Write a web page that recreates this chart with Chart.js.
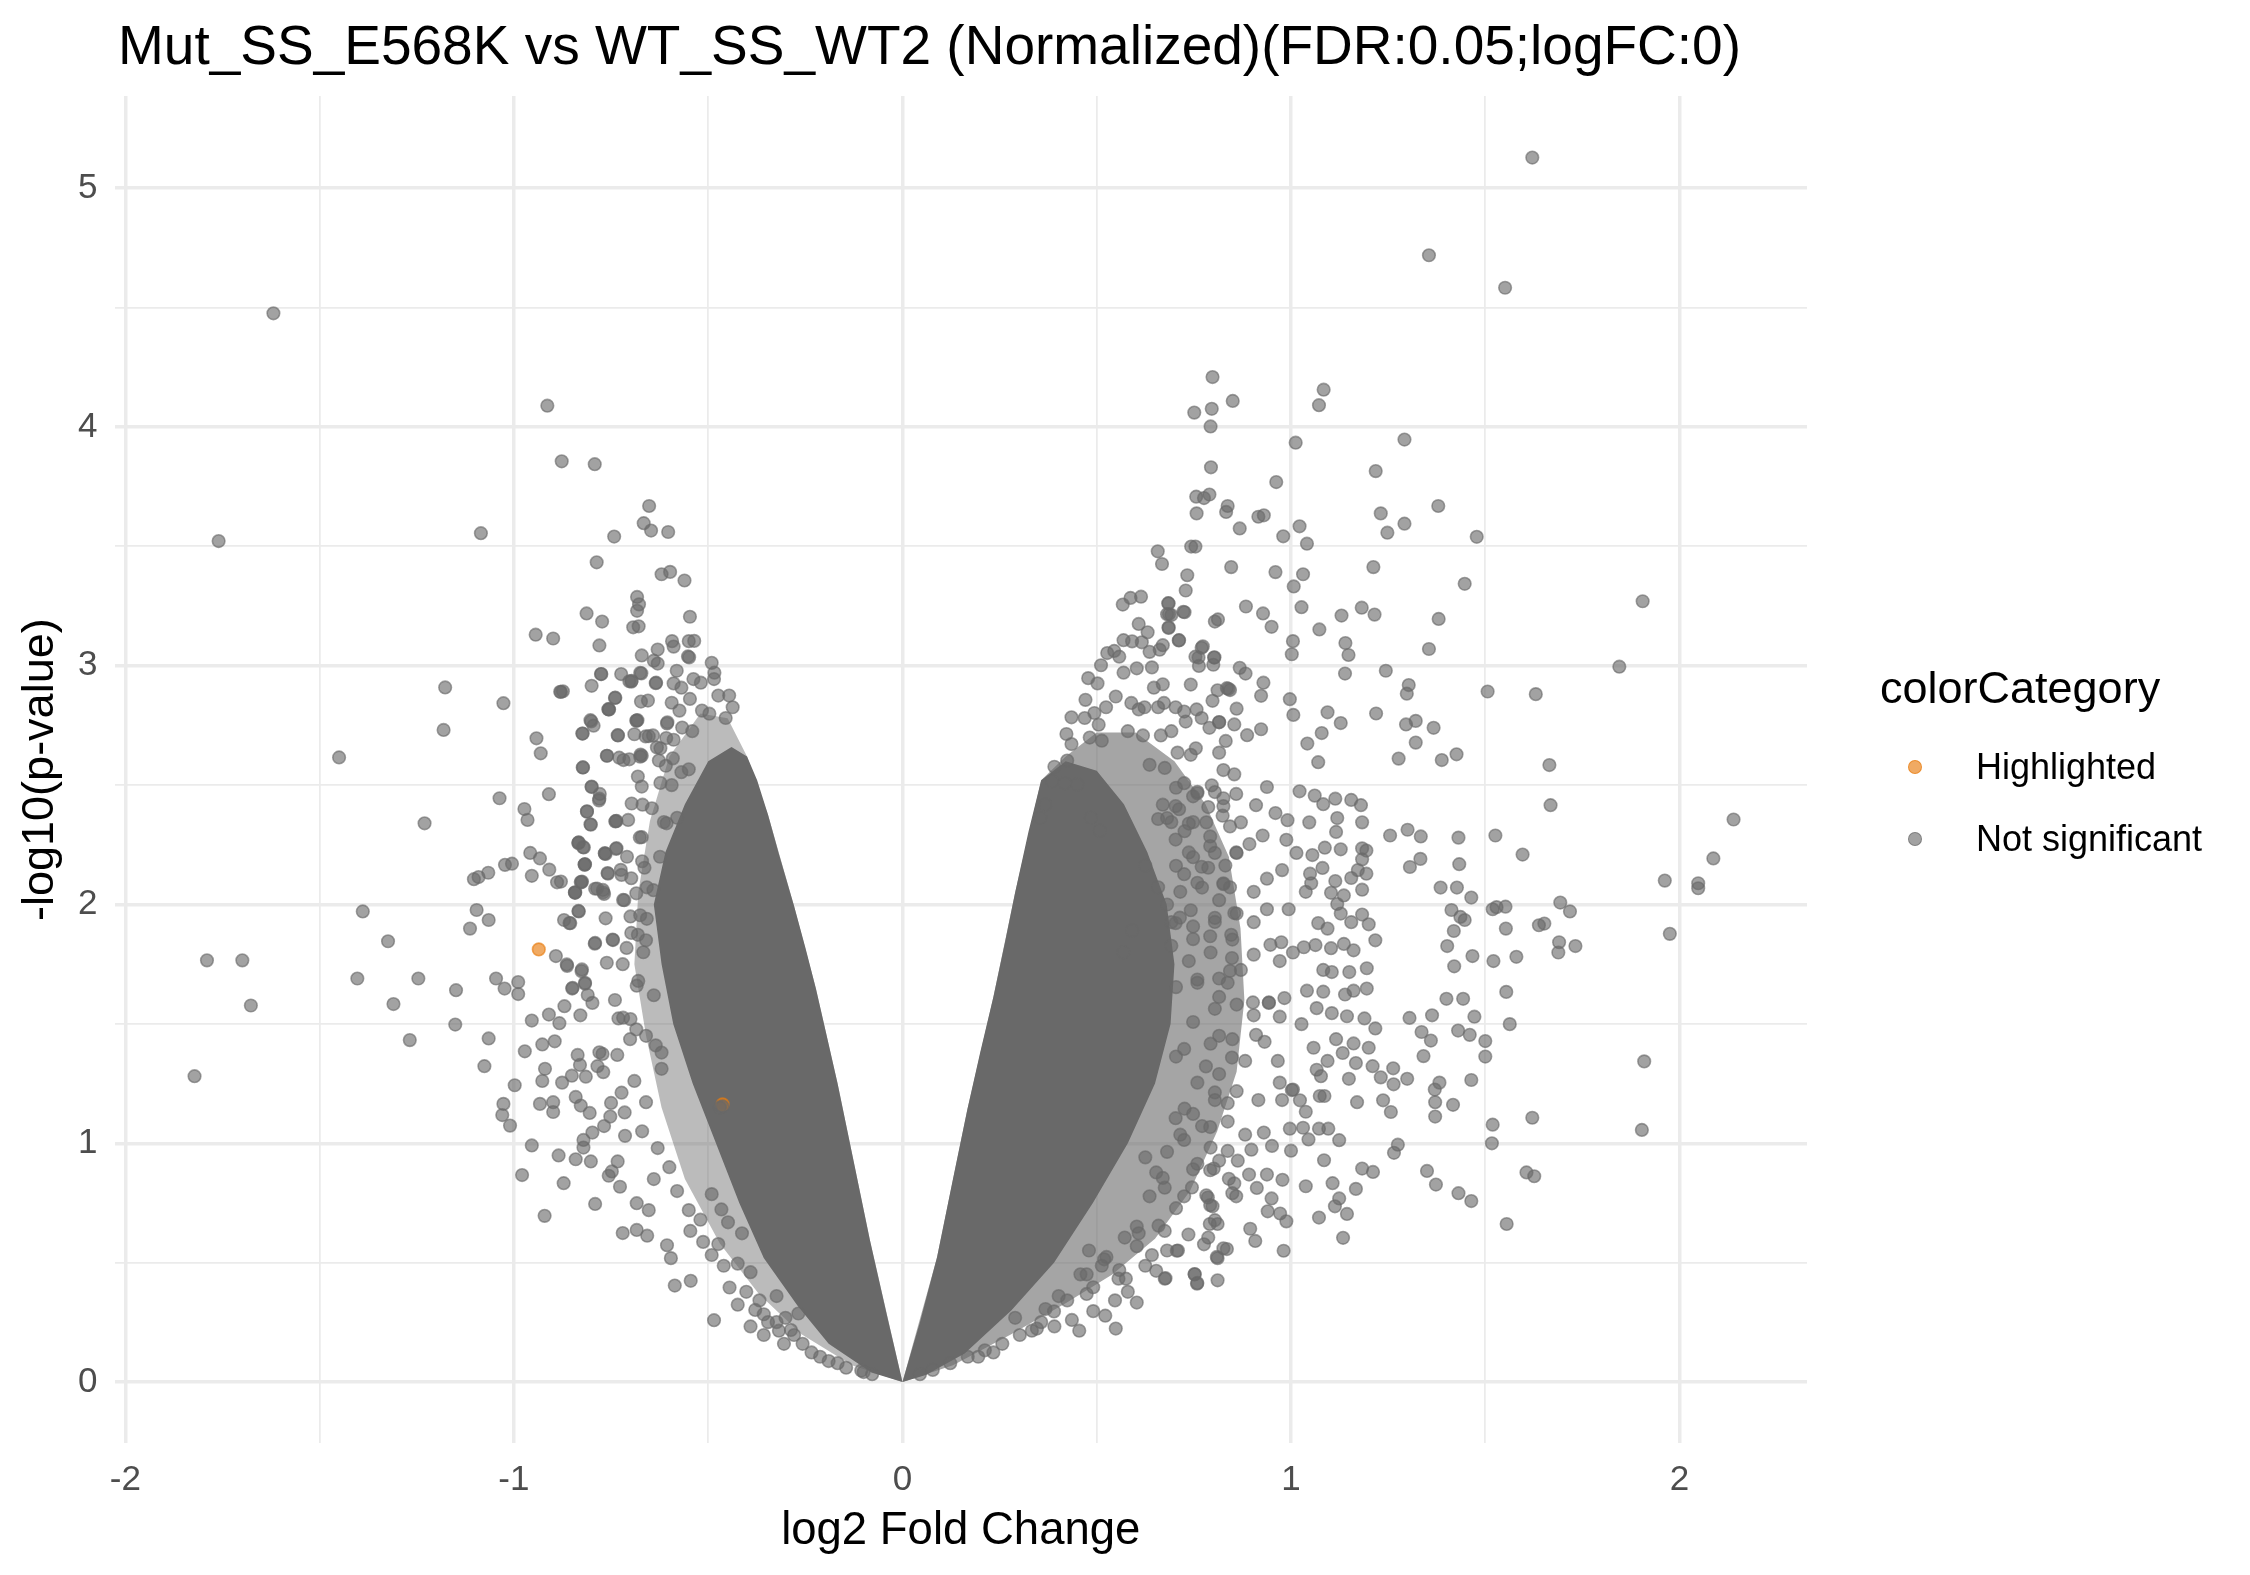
<!DOCTYPE html>
<html><head><meta charset="utf-8">
<script src="https://cdn.jsdelivr.net/npm/chart.js@4.4.1/dist/chart.umd.min.js"></script>
<style>
html,body{margin:0;padding:0;background:#fff;}
#wrap{position:relative;width:2250px;height:1575px;overflow:hidden;font-family:"Liberation Sans",Arial,Helvetica,sans-serif;}
canvas{position:absolute;left:0;top:0;}
.t{position:absolute;white-space:nowrap;color:#000;line-height:1;}
.dot{position:absolute;box-sizing:border-box;width:14px;height:14px;border-radius:50%;}
</style></head>
<body><div id="wrap">
<canvas id="c" width="2250" height="1575"></canvas>
<div class="t" id="title" style="left:118px;top:18px;font-size:55px;"></div>
<div id="legend"></div>
</div>
<script>
// ---------- text ----------
const chartTitle = "Mut_SS_E568K vs WT_SS_WT2 (Normalized)(FDR:0.05;logFC:0)";
const xAxisTitle = "log2 Fold Change";
const yAxisTitle = "-log10(p-value)";
const legendTitle = "colorCategory";
const categories = ["Highlighted", "Not significant"];

// ---------- ticks ----------
const xTickValues = [-2, -1.5, -1, -0.5, 0, 0.5, 1, 1.5, 2];
const xTickLabels = ["-2", "", "-1", "", "0", "", "1", "", "2"];
const yTickValues = [0, 0.5, 1, 1.5, 2, 2.5, 3, 3.5, 4, 4.5, 5];
const yTickLabels = ["0", "", "1", "", "2", "", "3", "", "4", "", "5"];

// ---------- data: [log2FC, -log10(p)] ----------
const highlighted = [[-0.936, 1.812], [-0.463, 1.163]];

const notSignificantLeft = [
[-1.619,4.476],[-1.760,3.522],[-1.450,2.616],[-1.822,1.281],[-1.790,1.766],[-1.699,1.766],[-1.677,1.577],
[-1.389,1.971],[-1.403,1.690],[-1.324,1.846],[-1.310,1.583],[-1.246,1.690],[-1.268,1.432],[-1.230,2.340],
[-1.177,2.909],[-1.181,2.731],[-1.149,1.641],[-1.151,1.497],[-1.113,1.899],[-1.096,1.977],[-1.065,1.935],
[-1.085,3.555],[-1.027,2.843],[-1.103,2.106],[-1.091,2.115],[-1.066,2.133],[-1.023,2.166],[-1.005,2.171],
[-1.037,2.445],[-1.046,1.690],[-1.024,1.648],[-0.989,1.675],[-0.989,1.625],[-1.065,1.439],[-1.076,1.323],
[-1.027,1.165],[-1.030,1.118],[-1.010,1.074],[-0.979,0.867],[-0.921,0.696],[-0.998,1.243],
[-0.914,4.089],[-0.877,3.856],[-0.792,3.844],[-0.652,3.669],[-0.666,3.597],[-0.647,3.566],[-0.603,3.560],
[-0.742,3.541],[-0.787,3.433],[-0.620,3.383],[-0.598,3.393],[-0.561,3.357],[-0.683,3.288],[-0.678,3.257],
[-0.683,3.230],[-0.813,3.219],[-0.773,3.185],[-0.693,3.161],[-0.679,3.165],[-0.547,3.205],[-0.944,3.130],
[-0.899,3.114],[-0.780,3.085],[-0.671,3.043],[-0.630,3.068],[-0.593,3.103],[-0.550,3.103],[-0.640,3.021],
[-0.630,3.009],[-0.552,3.039],[-0.491,3.012],[-0.879,2.890],[-0.942,2.696],[-0.931,2.633],[-0.823,2.574],
[-0.775,2.965],[-0.800,2.916],[-0.724,2.965],[-0.697,2.937],[-0.675,2.970],[-0.635,2.927],[-0.581,2.979],
[-0.740,2.865],[-0.757,2.818],[-0.673,2.850],[-0.655,2.854],[-0.801,2.767],[-0.795,2.749],[-0.824,2.716],
[-0.733,2.709],[-0.685,2.770],[-0.690,2.713],[-0.760,2.623],[-0.671,2.623],[-0.594,2.845],[-0.606,2.758],
[-0.536,3.104],[-0.589,3.080],[-0.549,3.035],[-0.484,2.971],[-0.485,2.944],[-0.703,2.935],[-0.874,2.893],
[-0.739,2.866],[-0.569,2.908],[-0.589,2.926],[-0.519,2.929],[-0.538,2.944],[-0.474,2.875],[-0.446,2.875],
[-0.437,2.826],[-0.755,2.817],[-0.574,2.812],[-0.547,2.861],[-0.516,2.812],[-0.497,2.799],[-0.455,2.781],
[-0.803,2.772],[-0.684,2.770],[-0.732,2.708],[-0.605,2.763],[-0.567,2.741],[-0.541,2.726],[-0.661,2.704],
[-0.642,2.708],[-0.608,2.697],[-0.589,2.690],[-0.674,2.628],[-0.761,2.623],[-0.822,2.574],[-0.729,2.615],
[-0.703,2.608],[-0.623,2.654],[-0.627,2.603],[-0.591,2.612],[-0.609,2.581],[-0.569,2.554],[-0.550,2.566],
[-0.681,2.536],[-0.800,2.494],[-0.779,2.463],[-0.781,2.436],[-0.812,2.390],[-0.803,2.336],[-0.739,2.348],
[-0.706,2.354],[-0.697,2.423],[-0.669,2.418],[-0.645,2.403],[-0.623,2.509],[-0.594,2.500],[-0.614,2.345],
[-0.580,2.363],[-0.676,2.281],[-0.736,2.236],[-0.764,2.212],[-0.834,2.259],[-0.820,2.239],[-0.818,2.167],
[-0.709,2.200],[-0.670,2.181],[-0.759,2.132],[-0.725,2.145],[-0.828,2.094],[-0.786,2.067],[-0.770,2.051],
[-0.879,2.096],[-0.843,2.051],[-0.716,2.018],[-0.664,2.154],[-0.658,2.072],[-0.764,1.942],[-0.834,1.973],
[-0.857,1.922],[-0.745,1.851],[-0.792,1.836],[-0.675,1.955],[-0.681,1.873],
[-0.910,2.462],[-0.973,2.400],[-0.965,2.354],[-0.812,2.389],[-0.802,2.334],[-0.800,2.492],[-0.780,2.443],
[-0.738,2.349],[-0.833,2.260],[-0.822,2.240],[-0.958,2.216],[-0.933,2.193],[-0.909,2.146],[-0.954,2.120],
[-0.889,2.093],[-0.818,2.167],[-0.826,2.093],[-0.843,2.049],[-0.766,2.213],[-0.737,2.233],[-0.758,2.129],
[-0.791,2.066],[-0.768,2.044],
[-0.892,1.784],[-0.863,1.743],[-0.826,1.721],[-0.871,1.935],[-0.833,1.971],[-0.954,1.514],[-0.910,1.539],
[-0.883,1.503],[-0.870,1.574],[-0.829,1.536],[-0.850,1.648],[-0.817,1.668],[-0.810,1.621],[-0.798,1.588],
[-0.927,1.414],[-0.895,1.427],[-0.972,1.385],[-0.920,1.312],[-0.927,1.261],[-0.876,1.254],[-0.851,1.283],
[-0.830,1.328],[-0.836,1.370],[-0.815,1.279],[-0.780,1.381],[-0.772,1.374],[-0.785,1.323],[-0.770,1.298],
[-0.933,1.165],[-0.899,1.172],[-0.899,1.131],[-0.841,1.194],[-0.828,1.158],[-0.805,1.127],[-0.752,1.112],
[-0.768,1.072],[-0.798,1.045],[-0.954,0.991],[-0.885,0.949],[-0.841,0.933],[-0.802,0.924],[-0.821,1.014],
[-0.821,0.982],[-0.872,0.833],[-0.791,0.746],[-0.756,0.864],[-0.748,0.882],[-0.733,0.924],[-0.727,0.818],
[-0.684,0.749],[-0.653,0.720],[-0.720,0.624],[-0.684,0.637],[-0.657,0.613],[-0.714,1.031],[-0.660,1.172],
[-0.715,1.129],[-0.750,1.169],[-0.723,1.212],[-0.690,1.261],[-0.620,1.312],[-0.635,1.410],[-0.734,1.370],
[-0.701,1.436],[-0.685,1.477],[-0.731,1.523],[-0.719,1.526],[-0.606,0.573],[-0.596,0.519],[-0.546,0.633],
[-0.586,0.404],[-0.545,0.424],[-0.485,0.259],
[-0.445,0.396],[-0.379,0.302],[-0.357,0.284],[-0.305,0.160],[-0.324,0.251],[-0.318,0.215],[-0.287,0.218],
[-0.190,0.088],[-0.106,0.048],[-0.491,0.532],[-0.460,0.487],[-0.424,0.496],[-0.391,0.460],[-0.449,0.669],
[-0.413,0.623],[-0.491,0.787],[-0.466,0.723],[-0.513,0.587],[-0.474,0.578],
[-0.700,1.950],[-0.660,1.850],[-0.720,1.750],[-0.680,1.680],[-0.640,1.620],[-0.740,1.600],[-0.700,1.520],
[-0.660,1.450],[-0.620,1.380],[-0.670,1.050],[-0.630,0.980],[-0.600,0.900],[-0.580,0.800],[-0.640,0.850],
[-0.550,0.720],[-0.520,0.680],[-0.463,1.154],[-0.470,1.150],
[-0.881,2.891],[-0.776,2.965],[-0.698,2.933],[-0.672,2.968],[-0.634,2.929],[-0.756,2.817],[-0.682,2.772],
[-0.823,2.716],[-0.653,2.705],[-0.632,2.658],[-0.718,2.605],[-0.675,2.619],[-0.671,2.494],[-0.736,2.350],
[-0.671,2.282],[-0.766,2.215],[-0.834,2.257],[-0.817,2.169],[-0.723,2.124],[-0.698,2.110],[-0.771,2.061],
[-0.825,2.096],[-0.842,2.050],[-0.719,2.019],[-0.685,2.047],[-0.855,1.922],[-0.791,1.839],[-0.761,1.756],
[-0.746,1.853],[-0.825,1.728],[-0.864,1.749],[-0.710,1.818],[-0.698,1.881],[-0.817,1.672],[-0.849,1.651],
[-0.641,2.060],[-0.624,2.200],[-0.607,2.340],[-0.658,1.940],[-0.667,1.800],[-0.684,1.660],
[-0.402,0.378],[-0.368,0.342],[-0.346,0.251],[-0.301,0.269],[-0.279,0.197],[-0.257,0.160],[-0.234,0.124],
[-0.212,0.106],[-0.167,0.079],[-0.145,0.060],[-0.100,0.042],[-0.078,0.033],[-0.324,0.360],[-0.424,0.324],
[-0.391,0.233],[-0.357,0.197],[-0.268,0.287]
];

const notSignificantRight = [
[1.621,5.128],[1.355,4.719],[1.551,4.583],[0.798,4.209],[0.850,4.109],[0.751,4.060],[0.796,4.076],
[0.793,4.002],[1.084,4.156],[1.072,4.091],[1.012,3.934],[1.292,3.947],[0.794,3.831],[0.962,3.769],
[1.218,3.815],[0.756,3.708],[0.776,3.702],[0.790,3.717],[0.837,3.669],[0.833,3.644],[0.757,3.638],
[1.379,3.669],[0.916,3.624],[0.930,3.630],[1.231,3.638],[0.868,3.575],[1.022,3.584],[1.292,3.595],
[1.248,3.557],[0.980,3.542],[1.041,3.511],[1.478,3.540],[0.657,3.479],[0.668,3.426],[0.743,3.499],
[0.754,3.499],[0.846,3.413],[0.960,3.392],[1.031,3.383],[1.007,3.332],[1.212,3.413],[1.447,3.343],
[1.905,3.270],[0.733,3.379],[0.729,3.315],[0.685,3.261],[0.681,3.216],[0.692,3.212],[0.726,3.224],
[0.685,3.161],[0.884,3.248],[0.928,3.219],[0.950,3.163],[0.804,3.185],[0.812,3.194],[1.027,3.245],
[1.073,3.152],[1.130,3.210],[1.182,3.243],[1.215,3.214],[1.380,3.196],[1.355,3.070],[1.005,3.103],
[1.002,3.048],[1.140,3.095],[1.148,3.045],[1.139,2.967],[1.244,2.979],[1.845,2.996],[1.506,2.892],
[1.630,2.881],[1.303,2.919],[1.298,2.883],[0.773,3.081],[0.711,3.106],[0.762,3.034],[0.802,3.034],
[0.868,2.991],[0.883,2.967],[0.929,2.929],[0.923,2.874],[0.839,2.903],[0.997,2.860],[1.006,2.794],
[1.219,2.800],[1.094,2.805],[1.128,2.760],[1.079,2.718],[1.042,2.674],[1.367,2.740],[1.321,2.769],
[1.296,2.754],[1.321,2.678],[1.426,2.629],[1.388,2.605],[1.277,2.611],[1.665,2.584],[1.070,2.596],
[0.923,2.734],[0.887,2.709],[0.832,2.685],[0.860,2.820],[0.742,2.921],[0.790,2.740],[0.815,2.764],
[1.668,2.416],[2.139,2.356],[2.087,2.193],[1.962,2.100],[2.048,2.089],[2.048,2.068],[1.975,1.877],
[1.909,1.343],[1.903,1.056],[1.526,2.289],[1.596,2.209],[1.431,2.280],[1.433,2.169],[1.334,2.285],
[1.333,2.191],[1.300,2.313],[1.255,2.289],[1.306,2.157],[1.693,2.008],[1.718,1.971],[1.519,1.980],
[1.529,1.989],[1.552,1.991],[1.638,1.913],[1.652,1.920],[1.553,1.899],[1.690,1.842],[1.688,1.799],
[1.732,1.826],[1.580,1.781],[1.521,1.763],[1.467,1.784],[1.420,1.741],[1.427,2.071],[1.464,2.029],
[1.385,2.071],[1.413,1.977],[1.436,1.948],[1.447,1.935],[1.419,1.889],[1.402,1.826],[1.554,1.634],
[1.443,1.605],[1.400,1.605],[1.563,1.499],[1.472,1.530],[1.363,1.536],[1.305,1.525],[1.430,1.472],
[1.460,1.454],[1.500,1.428],[1.500,1.363],[1.341,1.365],[1.360,1.430],[1.336,1.466],[1.464,1.265],
[1.382,1.254],[1.370,1.225],[1.371,1.172],[1.371,1.112],[1.417,1.161],[1.299,1.270],[1.264,1.247],
[1.237,1.180],[1.257,1.131],[1.170,1.172],[1.149,1.270],[1.231,1.276],[1.210,1.323],[1.263,1.314],
[1.621,1.107],[1.519,1.078],[1.517,1.000],[1.275,0.994],[1.265,0.960],[1.124,1.013],[1.085,0.929],
[1.183,0.894],[1.211,0.880],[1.350,0.884],[1.373,0.827],[1.431,0.791],[1.464,0.758],[1.606,0.878],
[1.626,0.862],[1.555,0.662],[1.167,0.809],[1.107,0.833],[1.038,0.820],[1.124,0.769],[1.113,0.736],
[1.144,0.704],[1.072,0.689],[1.134,0.604],[0.978,0.847],[0.938,0.869],[0.950,0.769],[0.940,0.715],
[0.972,0.706],[0.988,0.673],[0.981,0.550],[0.895,0.642],[0.908,0.591],[0.835,0.557],[0.811,0.519],
[0.811,0.426],[0.758,0.412],[0.752,0.452],[0.677,0.435],[0.653,0.466],[0.706,0.550],[0.776,0.577],
[0.791,0.662],[0.811,0.662],[1.000,0.969],[0.997,1.061],[1.031,1.065],[1.072,1.061],[1.096,1.061],
[1.045,1.016],[1.023,1.180],[1.038,1.132],[1.074,1.198],[1.086,1.198],[1.002,1.223],[0.930,1.045],
[0.951,0.989],[0.898,0.973],[0.863,0.927],[0.840,0.851],[0.849,0.791],[0.786,0.773],[0.798,0.736],
[0.745,0.815],[0.801,0.894],[0.892,0.869],[0.912,0.813],
[1.022,2.474],[1.061,2.456],[1.083,2.420],[1.114,2.443],[1.155,2.438],[1.180,2.416],[1.183,2.344],
[1.047,2.344],[0.991,2.353],[0.960,2.383],[1.119,2.362],[1.116,2.304],[1.087,2.238],[1.128,2.231],
[1.183,2.235],[1.194,2.226],[1.055,2.207],[1.081,2.153],[1.014,2.216],[0.988,2.271],[1.183,2.189],
[1.172,2.144],[1.194,2.129],[1.114,2.098],[1.155,2.111],[1.183,2.062],[1.049,2.129],[1.052,2.089],
[1.038,2.053],[1.103,2.049],[1.136,2.038],[1.119,2.002],[1.070,1.922],[1.094,1.899],[1.128,1.962],
[1.155,1.926],[1.183,1.958],[1.200,1.917],[1.063,1.830],[1.103,1.817],[1.136,1.835],[1.161,1.808],
[1.217,1.850],[1.083,1.726],[1.105,1.717],[1.150,1.717],[1.195,1.733],[1.041,1.639],[1.083,1.635],
[1.139,1.623],[1.161,1.639],[1.195,1.648],[1.066,1.566],[1.105,1.545],[1.144,1.532],[1.189,1.523],
[1.217,1.481],[1.027,1.499],[0.971,1.530],[0.943,1.588],[1.116,1.436],[1.161,1.418],[1.200,1.400],
[1.058,1.400],[1.094,1.345],[1.133,1.378],[1.167,1.336],[0.966,1.345],[0.971,1.254],[1.005,1.225],
[1.066,1.308],[1.077,1.281],[0.916,1.181],[0.977,1.181],[0.904,1.536],[0.910,1.454],[0.932,1.425],
[0.902,1.590],[0.943,1.590],[0.983,1.608],[0.971,1.763],[1.005,1.799],[1.033,1.821],[0.904,1.790],
[0.947,1.831],[0.975,1.842],[0.871,1.726],[0.837,1.672],[0.860,1.962],[0.904,1.926],[0.938,1.980],
[0.994,1.980],[0.904,2.053],[0.938,2.108],[0.977,2.144],[0.860,2.216],[0.893,2.253],[0.927,2.289],
[0.871,2.344],[0.910,2.416],[0.938,2.492],[0.804,2.471],[0.748,2.453],[0.704,2.489],[0.782,2.344],
[0.726,2.307],[0.681,2.362],[0.804,2.216],[0.748,2.198],[0.704,2.162],[0.826,2.089],[0.771,2.071],
[0.715,2.053],[0.804,1.944],[0.748,1.908],[0.692,1.926],[0.849,1.853],[0.793,1.799],[0.737,1.763],
[0.815,1.690],[0.759,1.672],[0.704,1.654],[0.860,1.581],[0.804,1.563],[0.748,1.508],[0.849,1.436],
[0.793,1.417],[0.704,1.363],[0.882,1.345],[0.815,1.290],[0.759,1.254],[0.860,1.218],[0.804,1.181],
[0.726,1.145],[0.837,1.091],[0.771,1.072],[0.715,1.036],[0.882,1.036],[0.793,0.982],[0.681,0.964],
[0.815,0.927],[0.748,0.891],[0.670,0.855],[0.782,0.782],[0.704,0.728],[0.659,0.655],
[0.234,0.124],[0.195,0.106],[0.455,0.215],[0.549,0.224],[0.522,0.278],[0.603,0.333],[0.333,0.215],
[0.357,0.251],[0.390,0.296],[0.402,0.360],[0.474,0.369],[0.675,0.433],[0.752,0.451],[0.759,0.415],
[0.556,0.433],[0.575,0.433],[0.681,0.551],[0.709,0.551],[0.736,0.618],[0.787,0.605],[0.809,0.524],
[0.642,0.532],[0.603,0.569],[0.572,0.605],[0.608,0.623],[0.513,0.487],[0.474,0.451],[0.480,0.551],
[0.519,0.514],[0.792,0.741],[0.804,0.678],[0.826,0.560],[0.675,0.814],[0.725,0.778],[0.636,0.778],
[0.759,0.914],[0.792,0.887],[0.725,1.014],[0.837,0.968],[0.854,0.832],[0.859,0.778],[0.625,0.941],
[0.653,0.878],[0.603,0.651],[0.675,0.633],[0.703,1.105],[0.748,1.123],[0.792,1.068],[0.804,1.213],
[0.837,1.168],[0.725,1.395],[0.781,1.322],[0.815,1.450],[0.848,1.359],[0.759,1.686],[0.815,1.613],
[0.843,1.722],[0.792,1.867],[0.848,1.776],[0.703,1.922],[0.742,1.976],[0.770,2.158],[0.826,2.085],
[0.792,2.285],[0.737,2.339],[0.826,2.412],[0.759,2.466],[0.703,2.412],[0.658,2.358],
[0.567,3.256],[0.587,3.284],[0.614,3.289],[0.684,3.262],[0.686,3.216],[0.723,3.226],[0.685,3.158],
[0.608,3.175],[0.631,3.140],[0.591,3.102],[0.616,3.098],[0.670,3.086],[0.712,3.107],[0.527,3.053],
[0.545,3.062],[0.558,3.038],[0.569,3.107],[0.636,3.058],[0.662,3.067],[0.754,3.038],[0.763,2.999],
[0.803,3.035],[0.800,3.004],[0.770,3.075],[0.511,3.002],[0.478,2.948],[0.502,2.926],[0.569,2.971],
[0.603,2.989],[0.642,2.993],[0.647,2.908],[0.670,2.922],[0.811,2.897],[0.835,2.906],[0.471,2.857],
[0.494,2.802],[0.524,2.826],[0.435,2.784],[0.469,2.781],[0.549,2.871],[0.589,2.844],[0.608,2.817],
[0.623,2.826],[0.658,2.826],[0.673,2.844],[0.703,2.826],[0.725,2.808],[0.757,2.817],[0.798,2.853],
[0.843,2.898],[0.729,2.766],[0.770,2.781],[0.815,2.763],[0.854,2.754],[0.422,2.714],[0.435,2.672],
[0.505,2.753],[0.482,2.699],[0.513,2.686],[0.580,2.726],[0.619,2.708],[0.665,2.708],[0.692,2.726],
[0.755,2.654],[0.708,2.636],[0.742,2.627],[0.815,2.636],[0.391,2.577],[0.424,2.603],[0.636,2.585],
[0.675,2.572],[0.826,2.563],[0.854,2.545],[0.385,2.517],[0.418,2.508],[0.450,2.503],[0.725,2.508],
[0.759,2.472],[0.796,2.499],[0.826,2.445],[0.859,2.463],[0.670,2.418],[0.712,2.399],[0.787,2.408],
[0.824,2.372],[0.692,2.345],[0.748,2.345],[0.843,2.327],[0.368,2.418],[0.355,2.363],[0.485,2.363],
[0.508,2.309],[0.703,2.272],[0.737,2.218],[0.792,2.245],[0.859,2.218],[0.831,2.163],[0.725,2.127],
[0.759,2.091],[0.787,2.154],[0.843,2.072],[0.815,2.018],[0.625,2.163],[0.658,2.072],[0.681,2.000],
[0.714,1.945],[0.804,1.927],[0.854,1.964],[0.846,1.873],[0.748,1.855],[0.692,1.827],[0.591,1.891],
[0.569,1.800],
[0.045,0.033],[0.078,0.051],[0.123,0.079],[0.168,0.106],[0.212,0.133],[0.257,0.160],[0.302,0.197],
[0.346,0.224],[0.391,0.233],[0.436,0.260],[0.491,0.297],[0.547,0.342],[0.580,0.378],[0.290,0.269],
[0.368,0.306],[0.424,0.342],[0.491,0.397],[0.558,0.469],[0.625,0.487],[0.458,0.451],[0.525,0.524]
];

// outlines of the regions where the points overlap into a solid mass
const leftHaloOutline = [[0,0],[-0.084,0.596],[-0.167,1.25],[-0.223,1.649],[-0.279,1.994],[-0.346,2.376],[-0.40,2.62],[-0.45,2.78],[-0.52,2.8],[-0.6,2.62],[-0.65,2.35],[-0.68,2.05],[-0.69,1.75],[-0.66,1.45],[-0.62,1.15],[-0.56,0.85],[-0.47,0.58],[-0.37,0.37],[-0.26,0.2],[-0.13,0.07]];
const leftCoreOutline = [[0,0],[-0.04,0.28],[-0.084,0.596],[-0.125,0.92],[-0.167,1.25],[-0.195,1.45],[-0.223,1.649],[-0.25,1.82],[-0.279,1.994],[-0.318,2.212],[-0.346,2.376],[-0.374,2.52],[-0.40,2.62],[-0.44,2.66],[-0.5,2.6],[-0.56,2.42],[-0.61,2.22],[-0.64,2.0],[-0.62,1.75],[-0.59,1.5],[-0.54,1.25],[-0.48,1.0],[-0.42,0.75],[-0.357,0.52],[-0.27,0.32],[-0.19,0.16],[-0.08,0.04]];
const rightHaloOutline = [[0,0],[0.089,0.523],[0.167,1.141],[0.234,1.613],[0.29,2.05],[0.357,2.52],[0.42,2.62],[0.5,2.72],[0.6,2.72],[0.7,2.6],[0.78,2.42],[0.84,2.2],[0.87,1.9],[0.88,1.6],[0.86,1.3],[0.81,1.05],[0.74,0.8],[0.65,0.6],[0.54,0.45],[0.42,0.33],[0.28,0.2],[0.13,0.07]];
const rightCoreOutline = [[0,0],[0.045,0.25],[0.089,0.523],[0.13,0.85],[0.167,1.141],[0.2,1.38],[0.234,1.613],[0.265,1.85],[0.29,2.05],[0.324,2.303],[0.357,2.52],[0.42,2.6],[0.5,2.56],[0.57,2.42],[0.63,2.22],[0.68,2.0],[0.70,1.75],[0.69,1.5],[0.65,1.25],[0.58,1.0],[0.49,0.75],[0.39,0.5],[0.28,0.3],[0.16,0.12],[0.06,0.03]];

// ---------- styles ----------
const GREY = 'rgba(105,105,105,0.62)';
const ORANGE = 'rgba(232,125,15,0.65)';
const categoryColors = [ORANGE, GREY];

const toXY = a => a.map(p => ({x: p[0], y: p[1]}));

document.getElementById('title').textContent = chartTitle;

// HTML legend built from the arrays
(function(){
  const lg = document.getElementById('legend');
  const t = document.createElement('div');
  t.className = 't'; t.style.cssText = 'left:1880px;top:665px;font-size:45px;';
  t.textContent = legendTitle; lg.appendChild(t);
  categories.forEach((c, i) => {
    const cy = 767 + i * 72;
    const d = document.createElement('div');
    d.className = 'dot';
    d.style.cssText = `left:1908px;top:${cy-7}px;background:${categoryColors[i]};border:1.6px solid ${categoryColors[i]};`;
    lg.appendChild(d);
    const l = document.createElement('div');
    l.className = 't'; l.style.cssText = `left:1976px;top:${cy-18}px;font-size:36px;`;
    l.textContent = c; lg.appendChild(l);
  });
})();

const polygonPlugin = {
  id: 'polygonFill',
  beforeDatasetsDraw(chart) {
    const ctx = chart.ctx, a = chart.chartArea;
    ctx.save();
    ctx.beginPath(); ctx.rect(a.left, a.top, a.right - a.left, a.bottom - a.top); ctx.clip();
    chart.data.datasets.forEach((ds, i) => {
      if (!ds.polygonFill) return;
      const meta = chart.getDatasetMeta(i);
      ctx.beginPath();
      meta.data.forEach((el, j) => { if (j) ctx.lineTo(el.x, el.y); else ctx.moveTo(el.x, el.y); });
      ctx.closePath();
      ctx.fillStyle = ds.polygonFill;
      ctx.fill();
    });
    ctx.restore();
  }
};

const FONT = '"Liberation Sans", Arial, Helvetica, sans-serif';
Chart.defaults.font.family = FONT;

const polyDs = (data, fill) => ({data: toXY(data), polygonFill: fill, pointRadius: 0, showLine: false, pointHitRadius: 0});

new Chart(document.getElementById('c'), {
  type: 'scatter',
  data: {
    datasets: [
      {label: categories[1], data: toXY(notSignificantLeft.concat(notSignificantRight)),
       backgroundColor: GREY, borderColor: GREY, borderWidth: 1.6, pointRadius: 6.3},
      {label: categories[0], data: toXY(highlighted),
       backgroundColor: ORANGE, borderColor: ORANGE, borderWidth: 1.6, pointRadius: 6.3},
      polyDs(leftHaloOutline, 'rgba(105,105,105,0.45)'),
      polyDs(rightHaloOutline, 'rgba(105,105,105,0.6)'),
      polyDs(leftCoreOutline, 'rgb(105,105,105)'),
      polyDs(rightCoreOutline, 'rgb(105,105,105)')
    ]
  },
  plugins: [polygonPlugin],
  options: {
    responsive: false, animation: false, devicePixelRatio: 1, events: [],
    layout: {padding: {top: 96, right: 443, bottom: 0, left: 0}},
    plugins: {legend: {display: false}, tooltip: {enabled: false}, title: {display: false}},
    scales: {
      x: {
        type: 'linear', min: -2.028, max: 2.328,
        afterBuildTicks: s => { s.ticks = xTickValues.map(v => ({value: v})); },
        afterFit: s => { s.height = 131.7; },
        ticks: {autoSkip: false, maxRotation: 0, padding: 16, color: '#4D4D4D', font: {size: 35},
                callback: (v, i) => xTickLabels[i]},
        grid: {color: '#EBEBEB', drawTicks: false,
               lineWidth: c => (c.tick && Number.isInteger(c.tick.value)) ? 3.5 : 1.75},
        border: {display: false},
        title: {display: true, text: xAxisTitle, color: '#000', font: {size: 45.5}, padding: {top: 0, bottom: 16}}
      },
      y: {
        type: 'linear', min: -0.2565, max: 5.386,
        afterBuildTicks: s => { s.ticks = yTickValues.map(v => ({value: v})); },
        afterFit: s => { s.width = 114.5; },
        ticks: {autoSkip: false, padding: 17, color: '#4D4D4D', font: {size: 35},
                callback: (v, i) => yTickLabels[i]},
        grid: {color: '#EBEBEB', drawTicks: false,
               lineWidth: c => (c.tick && Number.isInteger(c.tick.value)) ? 3.5 : 1.75},
        border: {display: false},
        title: {display: true, text: yAxisTitle, color: '#000', font: {size: 45}, padding: {top: 14, bottom: 0}}
      }
    }
  }
});
</script>
</body></html>
